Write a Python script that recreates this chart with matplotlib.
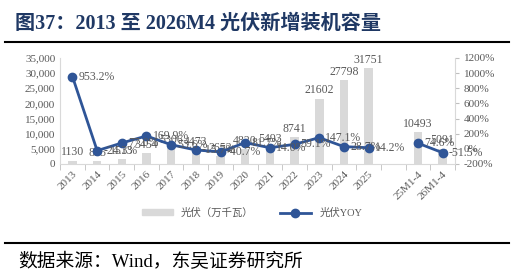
import numpy as np
import matplotlib.pyplot as plt
from matplotlib.lines import Line2D
from matplotlib.patches import Patch

categories = ['2013', '2014', '2015', '2016', '2017', '2018', '2019', '2020',
              '2021', '2022', '2023', '2024', '2025', '', '25M1-4', '26M1-4']
pv_new = [1130, 855, 1513, 3454, 5306, 4473, 2652, 4820,
          5493, 8741, 21602, 27798, 31751, np.nan, 10493, 5091]
pv_yoy = [953.2, -24.3, 77.0, 169.9, 53.6, -15.7, -40.7, 81.7,
          14.0, 59.1, 147.1, 28.7, 14.2, np.nan, 74.6, -51.5]

serif = ['Liberation Serif', 'Noto Sans CJK SC']
plt.rcParams['font.family'] = serif

grey = '#595959'
blue = '#2F5597'

fig = plt.figure(figsize=(5.14, 2.76), dpi=100)
ax = fig.add_axes([0.117, 0.406, 0.768, 0.384])
ax2 = ax.twinx()

x = np.arange(len(categories))
ax.bar(x, pv_new, width=0.35, color='#D9D9D9', zorder=1)
for xi, v in zip(x, pv_new):
    if not np.isnan(v):
        ax.text(xi, v + 700, f'{int(v)}', ha='center', va='bottom',
                fontsize=8.5, color=grey)

ax2.plot(x, pv_yoy, color=blue, lw=2, marker='o', ms=6, zorder=3)
for xi, v in zip(x, pv_yoy):
    if not np.isnan(v):
        ax2.text(xi + 0.25, v, f'{v:.1f}%', ha='left', va='center',
                 fontsize=8.5, color=grey)

ax.set_xlim(-0.5, len(categories) - 0.5)
ax.set_ylim(0, 35000)
ax.set_yticks(np.arange(0, 35001, 5000))
ax.set_yticklabels([f'{v:,}' for v in range(0, 35001, 5000)])
ax2.set_ylim(-200, 1200)
ax2.set_yticks(np.arange(-200, 1201, 200))
ax2.set_yticklabels([f'{v}%' for v in range(-200, 1201, 200)])

ax.set_xticks(x)
ax.set_xticklabels(categories, rotation=45, ha='right', rotation_mode='anchor')
ax.set_xticks(np.arange(-0.5, len(categories), 1), minor=True)
ax.tick_params(axis='x', which='major', length=0, labelsize=8,
               labelcolor=grey, pad=4)
ax.tick_params(axis='x', which='minor', length=4, color='#BFBFBF')
ax.tick_params(axis='y', length=0, labelsize=8, labelcolor=grey)
ax2.tick_params(axis='y', length=3, color='#BFBFBF', labelsize=8, labelcolor=grey)

for a in (ax, ax2):
    a.spines['top'].set_visible(False)
    for s in ('left', 'right', 'bottom'):
        a.spines[s].set_color('#D9D9D9')
ax.spines['right'].set_visible(False)
ax2.spines['left'].set_visible(False)
ax2.spines['bottom'].set_visible(False)

handles = [Patch(color='#D9D9D9'),
           Line2D([0], [0], color=blue, lw=2, marker='o', ms=6)]
fig.legend(handles, ['光伏（万千瓦）', '光伏YOY'], loc='center',
           bbox_to_anchor=(0.49, 0.228), ncol=2, frameon=False,
           prop={'family': serif, 'size': 7.5}, labelcolor=grey,
           handlelength=3, handleheight=0.5, columnspacing=2.5)

fig.text(0.03, 0.915, '图37：2013 至 2026M4 光伏新增装机容量', fontsize=14.5,
         fontweight='bold', color='#1F3864', va='center')
fig.add_artist(Line2D([0.01, 0.99], [0.848, 0.848], color='black', lw=1.5))
fig.add_artist(Line2D([0.01, 0.99], [0.12, 0.12], color='black', lw=1.5))
fig.text(0.035, 0.05, '数据来源：Wind，东吴证券研究所', fontsize=13.5,
         color='black', va='center')

fig.savefig('out.png', dpi=100)
